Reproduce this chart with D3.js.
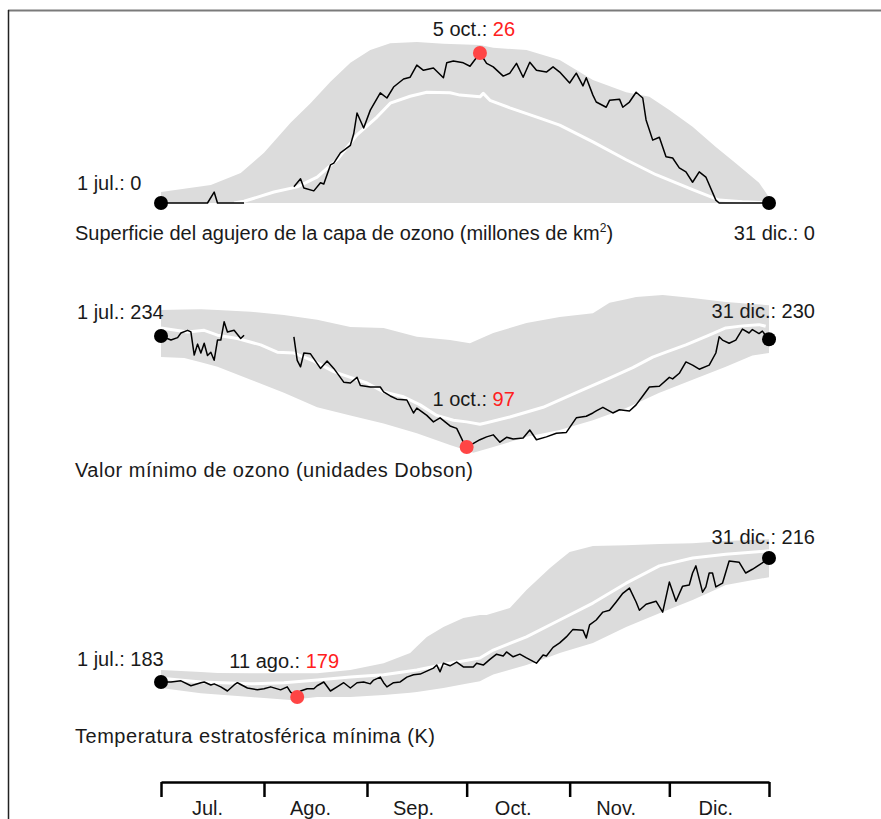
<!DOCTYPE html>
<html>
<head>
<meta charset="utf-8">
<script src="https://cdn.jsdelivr.net/npm/d3@7"></script>
<style>
  html, body { margin: 0; padding: 0; background: #fff; }
  svg { display: block; font-family: "Liberation Sans", Arial, sans-serif; }
</style>
</head>
<body>
<svg id="chart" width="881" height="819"></svg>
<script>
// Days are counted from 1 July; each pair is [day, value].
const months = ["Jul.", "Ago.", "Sep.", "Oct.", "Nov.", "Dic."];

// Ozone hole area (million km²)
const areaSeries = [[0,0],[14,0],[16,1.9],[17,0],[25,0],[26,null],[40,2.8],[42,4.2],[43,2.6],[46,2.1],[48,3.5],[49,3.3],[51,6.6],[52,6.9],[54,8.7],[57,10],[58,12],[59,15.6],[61,13],[63,16.1],[66,19.1],[68,18.2],[70,20.1],[73,21.5],[75,21.8],[77,23.9],[79,23],[82,23.4],[85,21.7],[86,24.3],[88,24.6],[91,24.3],[93,23.7],[96,26],[98,24.2],[100,23.6],[103,22],[105,22.5],[107,24.2],[109,21.8],[111,24.4],[113,23],[116,22.7],[118,23.6],[120,22.7],[123,20.8],[125,22.5],[127,20.3],[128,21.7],[130,18.7],[131,17.5],[134,16.6],[135,17.8],[138,18],[139,16.6],[141,17.5],[143,19.2],[145,18.2],[146,14.4],[148,10.9],[150,11.4],[152,8],[154,7.8],[156,6.1],[158,5.4],[160,3.6],[162,5.4],[164,4.5],[167,0.5],[168,0],[183,0]];
const areaMean = [[22,0],[25,0.3],[34,1.9],[41,2.8],[47,4.5],[53,7.5],[59,11.8],[65,14.9],[69,17.3],[75,18.5],[80,19.2],[87,19.1],[90,18.7],[96,18.4],[97,19],[99,17.8],[105,16.5],[114,14.7],[120,13.5],[130,10.6],[140,7.5],[149,4.9],[160,2.3],[168,0.5],[175,0.2],[183,0]];
const areaHigh = [[0,1.9],[15,3.1],[24,5.2],[31,8.7],[39,13.9],[45,17.3],[51,21],[57,24.3],[63,26.5],[69,27.7],[77,27.9],[85,27.6],[96,27.4],[100,26.9],[110,26.5],[120,24.8],[130,21.3],[140,19.2],[147,18.4],[153,16.1],[160,13.2],[167,9.7],[173,6.9],[180,3.5],[183,1]];
const areaLow = [[0,0],[183,0]];

// Minimum ozone (Dobson units)
const ozoneSeries = [[0,234],[3,229],[5,232],[6,237.7],[8,241],[9,239],[10,210.5],[11,224],[12,213],[13,225],[14,210],[15,214],[16,204],[17,229],[18,229],[19,251.5],[20,239],[22,241],[24,231],[25,235],[26,null],[40,233],[41,204],[42,196],[43,213],[45,212],[48,194],[50,203],[52,194],[55,177],[57,176],[59,183],[60,173],[63,171],[66,171],[67,165],[69,160],[71,156],[74,155],[76,139],[77,145],[80,136],[82,128],[84,133],[87,123],[89,120],[91,103],[92,97],[93,99],[96,106],[98,109.5],[100,112],[102,103],[104,109],[106,107],[109,108],[111,118],[113,106],[116,109.5],[119,114],[122,115],[125,133],[128,135],[130,139],[131,141.5],[133,146],[136,139],[138,143],[141,141.5],[143,149],[145,160],[147,171],[150,172],[153,183],[154,181],[156,188],[158,202],[160,198],[162,193],[165,198],[167,213],[168,233],[169,229],[171,225],[173,229],[175,242.6],[177,237.7],[178,242],[180,237],[181,240],[183,230]];
const ozoneMean = [[0,244],[8,239],[13,241],[17,235],[23,231],[30,223],[35,214],[40,213],[46,203],[52,190],[57,183],[62,176],[67,165],[73,159],[78,149],[83,136],[88,130],[92,128],[96,125],[98,127],[105,134],[115,146],[125,164],[135,182],[142,195],[148,208],[152,214],[158,223],[165,235],[170,244],[175,246.5],[180,248],[182,246]];
const ozoneHigh = [[0,266],[12,267],[27,264],[37,260],[47,254],[57,245],[67,244],[77,233],[87,229],[93,225],[100,237.7],[110,250],[120,257.5],[130,262],[135,275],[143,282],[151,284.6],[160,281],[170,276],[183,272]];
const ozoneLow = [[0,208],[7,207],[17,196],[27,180],[37,164],[47,146],[57,136],[67,126],[77,114],[87,99.5],[94,90],[100,97],[110,109.5],[120,118],[130,130],[140,145],[150,164],[160,180],[170,196],[178,210],[183,213]];

// Minimum stratospheric temperature (K)
const tempSeries = [[0,183],[3,183],[6,183.3],[9,182],[12,182.8],[13,183],[15,182.2],[16,182.5],[18,181.7],[20,180.6],[22,182.2],[23,182.8],[26,181.4],[29,180.9],[31,181.2],[33,181.7],[36,180.9],[38,181.7],[39,180.3],[41,179],[42,180.6],[44,181.2],[46,181.2],[47,182],[49,183],[51,180.6],[53,181.7],[55,182.8],[57,181.4],[59,182.8],[61,183],[63,182.5],[64,183.5],[66,184.3],[67,182.8],[68,181.7],[70,182.8],[72,183],[74,184.3],[76,184.9],[78,185.1],[80,185.9],[82,186.7],[83,187.5],[84,185.7],[85,188],[87,187.3],[89,188.3],[91,187],[94,187],[95,188],[97,187.5],[99,189],[101,190.4],[103,189.9],[104,191],[106,189.7],[108,190.4],[110,189.4],[113,188],[115,190.2],[116,189.9],[118,192.2],[120,193.4],[122,195],[124,197],[127,196.8],[128,194.7],[129,198.2],[131,199.5],[133,201.6],[135,202.1],[137,204.3],[139,206.6],[141,208],[143,204.3],[144,202.1],[146,203.7],[149,204.5],[151,201.6],[153,209.6],[155,204.5],[157,208.5],[159,208.8],[160,212],[161,213.9],[163,206.9],[164,208.3],[165,212],[166,212],[167,208.3],[169,209.3],[171,215.2],[174,214.9],[176,212],[178,213],[181,214.7],[183,216]];
const tempMean = [[0,184],[12,183],[27,182.5],[37,182.8],[47,183.5],[57,184.3],[67,184.9],[77,186.2],[87,188],[96,189.4],[100,191.5],[110,195],[120,199.5],[130,204],[140,209.3],[150,213.9],[160,216],[170,217],[183,217.9]];
const tempHigh = [[0,186.2],[17,185.4],[37,185.3],[47,185.3],[57,186.2],[67,188],[75,190.7],[80,195],[85,197.6],[91,200],[96,200.8],[98,200.8],[105,202.7],[110,207.5],[117,213.3],[123,217.6],[130,219.2],[140,219.4],[150,219.7],[160,219.9],[170,220.5],[183,221]];
const tempLow = [[0,181.4],[12,180],[27,179],[39,178.2],[47,179],[57,179],[67,179.5],[77,180.3],[87,181.7],[96,183.2],[100,185],[110,187.5],[120,190.7],[130,193.4],[140,197.6],[150,201.3],[160,204.8],[170,208.8],[183,210.9]];

// Highlighted extremes: [day, value, label]
const areaPeak = [96, 26, "5 oct.: "];
const ozoneLowest = [92, 97, "1 oct.: "];
const tempLowest = [41, 179, "11 ago.: "];

const titles = [
  "Superficie del agujero de la capa de ozono (millones de km",
  "Valor mínimo de ozono (unidades Dobson)",
  "Temperatura estratosférica mínima (K)"
];

const dayToDate = d => new Date(Date.UTC(2023, 6, 1 + d));
const svg = d3.select("#chart");
const ink = "#1a1a1a", red = "#ff2020", band = "#dcdcdc";

// Frame
svg.append("line").attr("x1", 8).attr("x2", 881).attr("y1", 10.5).attr("y2", 10.5)
  .attr("stroke", "#7a7a7a").attr("stroke-width", 2);
svg.append("line").attr("x1", 8.5).attr("x2", 8.5).attr("y1", 10).attr("y2", 819)
  .attr("stroke", "#222").attr("stroke-width", 1.5);

const x = d3.scaleUtc().domain([dayToDate(0), dayToDate(183)]).range([161, 769]);

const panels = [
  { series: areaSeries, mean: areaMean, high: areaHigh, low: areaLow, ext: areaPeak,
    y: d3.scaleLinear().domain([0, 26]).range([203, 53]),
    startDy: -13, endDy: 37, extDx: -6, extDy: -17, titleY: 240, title: titles[0], sup: true },
  { series: ozoneSeries, mean: ozoneMean, high: ozoneHigh, low: ozoneLow, ext: ozoneLowest,
    y: d3.scaleLinear().domain([97, 234]).range([447, 336]),
    startDy: -17, endDy: -21, extDx: 7, extDy: -41, titleY: 477, title: titles[1], titleLen: 398 },
  { series: tempSeries, mean: tempMean, high: tempHigh, low: tempLow, ext: tempLowest,
    y: d3.scaleLinear().domain([179, 216]).range([697, 558]),
    startDy: -16, endDy: -14, extDx: -13, extDy: -29, titleY: 743, title: titles[2], titleLen: 360 }
];

const valueAt = (arr, day) => {
  const b = arr.filter(p => p[1] != null);
  for (let i = 1; i < b.length; i++) {
    if (day <= b[i][0]) {
      const t = (day - b[i-1][0]) / (b[i][0] - b[i-1][0]);
      return b[i-1][1] + t * (b[i][1] - b[i-1][1]);
    }
  }
  return b[b.length - 1][1];
};

panels.forEach(p => {
  const g = svg.append("g");
  const y = p.y;
  // Range band built on the union of both edges' days
  const days = Array.from(new Set(p.high.map(d => d[0]).concat(p.low.map(d => d[0])))).sort((a, b) => a - b);
  const bandData = days.map(d => ({ d, hi: valueAt(p.high, d), lo: valueAt(p.low, d) }));
  g.append("path").datum(bandData)
    .attr("fill", band)
    .attr("d", d3.area().x(r => x(dayToDate(r.d))).y0(r => y(r.lo)).y1(r => y(r.hi)));

  g.append("path").datum(p.mean)
    .attr("fill", "none").attr("stroke", "#fff").attr("stroke-width", 3)
    .attr("stroke-linejoin", "round")
    .attr("d", d3.line().x(r => x(dayToDate(r[0]))).y(r => y(r[1])));

  g.append("path").datum(p.series)
    .attr("fill", "none").attr("stroke", "#000").attr("stroke-width", 1.5)
    .attr("stroke-linejoin", "round")
    .attr("d", d3.line().defined(r => r[1] != null).x(r => x(dayToDate(r[0]))).y(r => y(r[1])));

  const first = p.series[0], last = p.series[p.series.length - 1];
  [first, last].forEach(pt => {
    g.append("circle").attr("cx", x(dayToDate(pt[0]))).attr("cy", y(pt[1])).attr("r", 7).attr("fill", "#000");
  });
  g.append("circle").attr("cx", x(dayToDate(p.ext[0]))).attr("cy", y(p.ext[1])).attr("r", 7)
    .attr("fill", "#ff4545");

  const fmt = d3.format("d");
  g.append("text").attr("x", x(dayToDate(first[0])) - 84).attr("y", y(first[1]) + p.startDy)
    .attr("font-size", 20).attr("fill", ink).text("1 jul.: " + fmt(first[1]));
  g.append("text").attr("x", x(dayToDate(last[0])) + 46).attr("y", y(last[1]) + p.endDy)
    .attr("text-anchor", "end").attr("font-size", 20).attr("fill", ink).text("31 dic.: " + fmt(last[1]));
  const et = g.append("text").attr("x", x(dayToDate(p.ext[0])) + p.extDx).attr("y", y(p.ext[1]) + p.extDy)
    .attr("text-anchor", "middle").attr("font-size", 20).attr("fill", ink);
  et.append("tspan").text(p.ext[2]);
  et.append("tspan").attr("fill", red).text(fmt(p.ext[1]));

  const tt = g.append("text").attr("x", 75).attr("y", p.titleY).attr("font-size", 20).attr("fill", ink);
  if (p.titleLen) tt.attr("textLength", p.titleLen).attr("lengthAdjust", "spacing");
  tt.append("tspan").text(p.title);
  if (p.sup) {
    tt.append("tspan").attr("font-size", 12).attr("dy", -8).text("2");
    tt.append("tspan").attr("dy", 8).text(")");
  }
});

// Month axis
const tickDates = [0, 31, 62, 92, 123, 153, 183].map(dayToDate);
const axis = svg.append("g").attr("transform", "translate(0,782)")
  .call(d3.axisBottom(x).tickValues(tickDates).tickFormat("").tickSize(15).tickSizeOuter(0));
axis.select(".domain").attr("stroke", "#000").attr("stroke-width", 2.5);
axis.selectAll(".tick line").attr("stroke", "#000").attr("stroke-width", 2.5);
months.forEach((m, i) => {
  const mid = new Date(Date.UTC(2023, 6 + i, 15));
  svg.append("text").attr("x", x(mid)).attr("y", 815).attr("text-anchor", "middle")
    .attr("font-size", 20).attr("fill", ink).text(m);
});
</script>
</body>
</html>
